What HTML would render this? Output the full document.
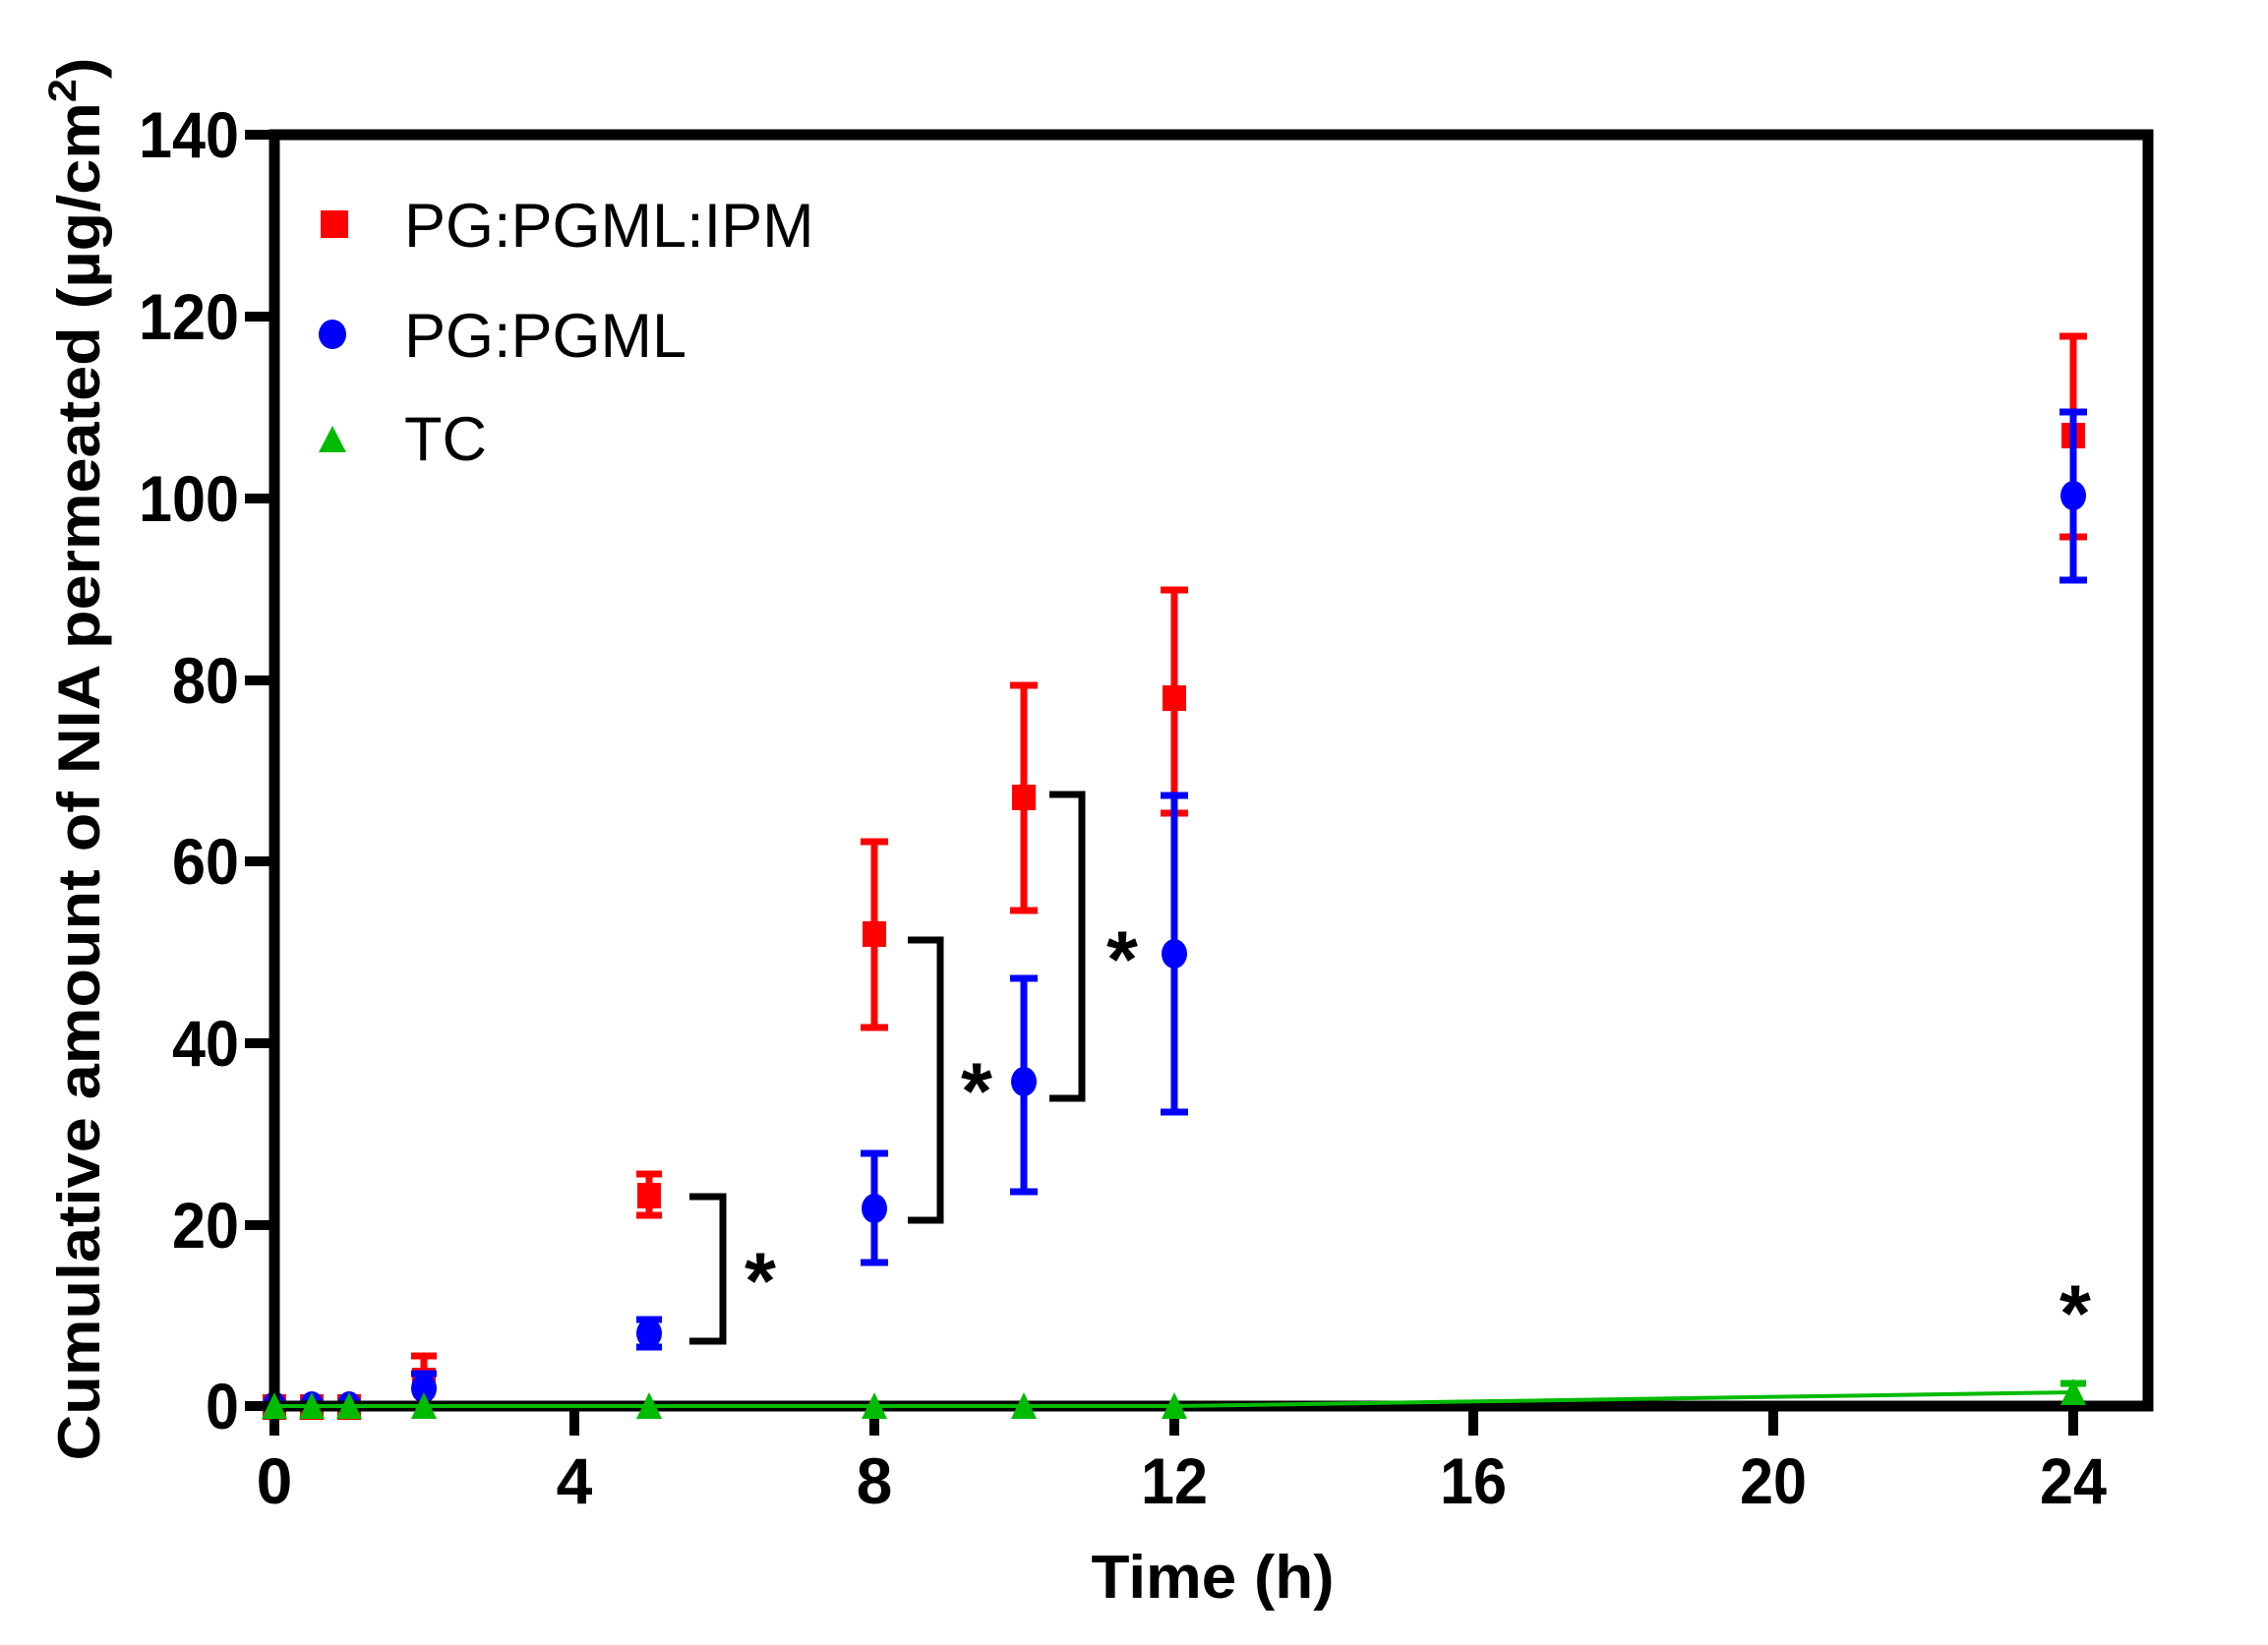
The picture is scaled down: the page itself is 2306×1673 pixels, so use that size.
<!DOCTYPE html>
<html><head><meta charset="utf-8"><style>html,body{margin:0;padding:0;background:#fff}svg{display:block}</style></head>
<body>
<svg width="2306" height="1673" viewBox="0 0 2306 1673" xmlns="http://www.w3.org/2000/svg" font-family="'Liberation Sans', Arial, sans-serif">
<rect width="2306" height="1673" fill="#fff"/>
<g stroke="#ff0000" stroke-width="7" fill="none">
<path d="M431,1379V1430M418,1379H444"/>
<path d="M660,1194V1236M647,1236H673M647,1194H673"/>
<path d="M889,856V1045M875,856H903M875,1045H903"/>
<path d="M1041,697V926M1027,697H1055M1027,926H1055"/>
<path d="M1194,600V827M1180,600H1208M1180,827H1208"/>
<path d="M2108,342V546M2094,342H2122M2094,546H2122" />
</g>
<g fill="#ff0000">
<rect x="267" y="1418" width="24" height="26"/><rect x="305" y="1418" width="24" height="26"/><rect x="343" y="1418" width="24" height="26"/>
<rect x="419" y="1391" width="24" height="26"/>
<rect x="648" y="1203" width="24" height="26"/>
<rect x="877" y="937" width="24" height="26"/>
<rect x="1029" y="798" width="24" height="26"/>
<rect x="1182" y="697" width="24" height="26"/>
<rect x="2096" y="430" width="24" height="26"/>
</g>
<g stroke="#0000ff" stroke-width="7" fill="none">
<path d="M431,1397V1425M418,1397H444"/>
<path d="M660,1342V1370M647,1342H673M647,1370H673"/>
<path d="M889,1173V1284M875,1173H903M875,1284H903"/>
<path d="M1041,995V1212M1027,995H1055M1027,1212H1055"/>
<path d="M1194,809V1131M1180,809H1208M1180,1131H1208"/>
<path d="M2108,419V590M2094,419H2122M2094,590H2122"/>
</g>
<g fill="#0000ff">
<ellipse cx="279" cy="1429" rx="12" ry="14"/><ellipse cx="317" cy="1429" rx="12" ry="14"/><ellipse cx="355" cy="1429" rx="12" ry="14"/>
<ellipse cx="431" cy="1412" rx="13" ry="15"/>
<ellipse cx="660" cy="1356" rx="13" ry="15"/>
<ellipse cx="889" cy="1229" rx="13" ry="15"/>
<ellipse cx="1041" cy="1100" rx="13" ry="15"/>
<ellipse cx="1194" cy="970" rx="13" ry="15"/>
<ellipse cx="2108" cy="504" rx="13" ry="15"/>
</g>
<g stroke="#000" stroke-width="11" fill="none">
<rect x="279" y="137" width="1905" height="1293"/>
</g>
<g stroke="#000" stroke-width="10">
<path d="M249,137H279M249,322H279M249,507H279M249,692H279M249,876H279M249,1061H279M249,1246H279M249,1430H279"/>
<path d="M279,1430V1460M584,1430V1460M889,1430V1460M1194,1430V1460M1498,1430V1460M1803,1430V1460M2108,1430V1460"/>
</g>
<polyline points="279,1430 317,1430 355,1430 431,1430 660,1430 889,1430 1041,1430 1194,1430 2108,1416" fill="none" stroke="#00bb00" stroke-width="4"/>
<path d="M2108,1416V1407M2095,1407H2121" stroke="#00bb00" stroke-width="7"/>
<g fill="#00bb00">
<polygon points="279,1416 266,1443 292,1443"/><polygon points="317,1416 304,1443 330,1443"/><polygon points="355,1416 342,1443 368,1443"/>
<polygon points="431,1416 418,1443 444,1443"/><polygon points="660,1416 647,1443 673,1443"/><polygon points="889,1416 876,1443 902,1443"/>
<polygon points="1041,1416 1028,1443 1054,1443"/><polygon points="1194,1416 1181,1443 1207,1443"/><polygon points="2108,1402 2095,1429 2121,1429"/>
</g>
<g stroke="#000" stroke-width="7" fill="none">
<path d="M701,1217H735V1364H701"/>
<path d="M923,956H956V1241H923"/>
<path d="M1067,808H1100V1117H1067"/>
</g>
<g font-size="82" font-weight="bold" text-anchor="middle" fill="#000">
<text x="773" y="1331">*</text>
<text x="993" y="1138">*</text>
<text x="1141" y="1004">*</text>
<text x="2110" y="1364">*</text>
</g>
<g font-size="66" font-weight="bold" text-anchor="end" fill="#000">
<text x="243" y="160" textLength="102" lengthAdjust="spacingAndGlyphs">140</text>
<text x="243" y="345" textLength="102" lengthAdjust="spacingAndGlyphs">120</text>
<text x="243" y="530" textLength="102" lengthAdjust="spacingAndGlyphs">100</text>
<text x="243" y="715" textLength="68" lengthAdjust="spacingAndGlyphs">80</text>
<text x="243" y="899" textLength="68" lengthAdjust="spacingAndGlyphs">60</text>
<text x="243" y="1084" textLength="68" lengthAdjust="spacingAndGlyphs">40</text>
<text x="243" y="1269" textLength="68" lengthAdjust="spacingAndGlyphs">20</text>
<text x="243" y="1453" textLength="34" lengthAdjust="spacingAndGlyphs">0</text>
</g>
<g font-size="66" font-weight="bold" text-anchor="middle" fill="#000">
<text x="279" y="1529">0</text>
<text x="584" y="1529">4</text>
<text x="889" y="1529">8</text>
<text x="1194" y="1529" textLength="68" lengthAdjust="spacingAndGlyphs">12</text>
<text x="1498" y="1529" textLength="68" lengthAdjust="spacingAndGlyphs">16</text>
<text x="1803" y="1529" textLength="68" lengthAdjust="spacingAndGlyphs">20</text>
<text x="2108" y="1529" textLength="68" lengthAdjust="spacingAndGlyphs">24</text>
</g>
<text x="1233" y="1625" font-size="62" font-weight="bold" text-anchor="middle" textLength="247" lengthAdjust="spacingAndGlyphs">Time (h)</text>
<text transform="translate(101,772) rotate(-90)" font-size="60" font-weight="bold" text-anchor="middle" textLength="1427" lengthAdjust="spacingAndGlyphs">Cumulative amount of NIA permeated (µg/cm<tspan dy="-24" font-size="40">2</tspan><tspan dy="24">)</tspan></text>
<rect x="326" y="214" width="28" height="28" fill="#ff0000"/>
<ellipse cx="338" cy="340" rx="14" ry="15" fill="#0000ff"/>
<polygon points="338,433 324,460 352,460" fill="#00bb00"/>
<g font-size="63" fill="#000">
<text x="411" y="251">PG:PGML:IPM</text>
<text x="411" y="363">PG:PGML</text>
<text x="411" y="468">TC</text>
</g>
</svg>
</body></html>
